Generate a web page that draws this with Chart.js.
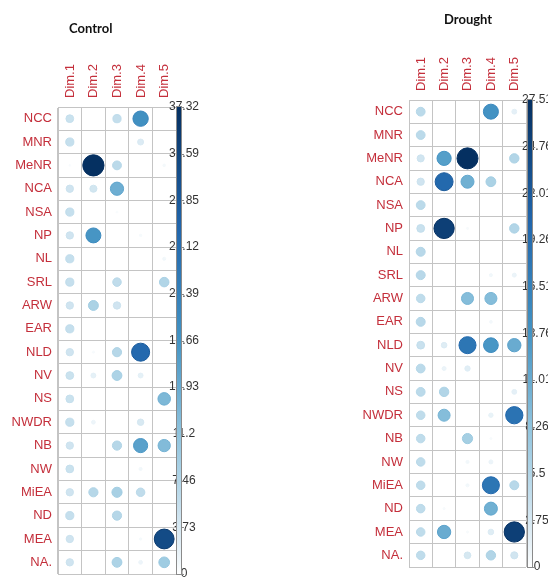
<!DOCTYPE html>
<html>
<head>
<meta charset="utf-8">
<script src="https://cdn.jsdelivr.net/npm/chart.js@4.4.1/dist/chart.umd.min.js"></script>
<style>
  html, body { margin: 0; padding: 0; background: #fff; }
  #wrap { position: relative; width: 548px; height: 579px; overflow: hidden; }
  .panel { position: absolute; top: 0; width: 274px; height: 579px; }
  .title { position: absolute; font: bold 13px Lato, "Liberation Sans", Arial, sans-serif; color: #111; white-space: nowrap; }
</style>
</head>
<body>
<div id="wrap">
  <div class="panel" style="left:0"><canvas id="ctrl" width="274" height="579"></canvas></div>
  <div class="panel" style="left:274px"><canvas id="drought" width="274" height="579"></canvas></div>
  <div class="title" style="left:69px;top:20px">Control</div>
  <div class="title" style="left:444px;top:11px">Drought</div>
</div>
<script>
// Variables (rows) and principal dimensions (columns)
const variables = ['NCC', 'MNR', 'MeNR', 'NCA', 'NSA', 'NP', 'NL', 'SRL', 'ARW', 'EAR',
                   'NLD', 'NV', 'NS', 'NWDR', 'NB', 'NW', 'MiEA', 'ND', 'MEA', 'NA.'];
const dims = ['Dim.1', 'Dim.2', 'Dim.3', 'Dim.4', 'Dim.5'];

// Contributions (%) of each variable to each dimension — Control
const ctrlDim1 = [5.0, 5.5, 0.3, 4.5, 5.5, 4.5, 5.5, 5.5, 4.5, 5.5, 4.5, 5.0, 5.0, 5.5, 4.5, 5.0, 4.5, 5.5, 4.5, 4.5];
const ctrlDim2 = [0, 0, 37.32, 4.2, 0, 18.5, 0, 0, 8.2, 0, 0.4, 2.0, 0, 1.2, 0, 0, 7.0, 0, 0, 0];
const ctrlDim3 = [5.6, 0, 6.5, 14.5, 0.3, 0, 0, 6.0, 4.5, 0, 7.0, 8.0, 0, 0, 7.0, 0, 8.5, 7.0, 0, 8.0];
const ctrlDim4 = [19.5, 3.0, 0, 0, 0, 0.5, 0, 0, 0, 0, 27.0, 2.0, 0, 3.5, 16.5, 0.8, 6.0, 0, 0.5, 1.2];
const ctrlDim5 = [0, 0, 0.6, 0, 0, 0, 0.8, 7.5, 0, 0, 0, 0, 13.0, 0, 12.5, 0, 0, 0, 32.5, 9.5];

// Contributions (%) of each variable to each dimension — Drought
const drDim1 = [4.8, 4.8, 3.2, 3.3, 4.8, 3.8, 5.0, 5.0, 4.5, 5.0, 3.8, 4.8, 4.8, 4.5, 4.5, 4.5, 4.5, 4.5, 4.5, 4.5];
const drDim2 = [0, 0, 12.5, 20.0, 0, 25.5, 0, 0, 0, 0, 2.0, 1.0, 5.5, 9.0, 0, 0, 0, 0.3, 11.0, 0];
const drDim3 = [0, 0, 27.51, 10.5, 0, 0.3, 0, 0, 9.0, 0, 18.0, 1.8, 0, 0, 6.5, 0.6, 0.6, 0, 0.3, 2.8];
const drDim4 = [14.0, 0, 0, 6.0, 0, 0, 0, 0.6, 9.0, 0.5, 13.5, 0, 0, 1.2, 0.3, 1.0, 18.0, 10.5, 2.0, 5.5];
const drDim5 = [1.5, 0, 5.5, 0, 0, 5.5, 0, 1.0, 0, 0, 11.0, 0, 1.5, 18.5, 0, 0, 5.0, 0, 25.5, 3.2];

// Colour-bar tick labels
const ctrlScaleTicks = ['0', '3.73', '7.46', '11.2', '14.93', '18.66', '22.39', '26.12', '29.85', '33.59', '37.32'];
const drScaleTicks = ['0', '2.75', '5.5', '8.26', '11.01', '13.76', '16.51', '19.26', '22.01', '24.76', '27.51'];

// Blue half of the RdBu diverging palette
const paletteStops = ['#FFFFFF', '#D1E5F0', '#92C5DE', '#4393C3', '#2166AC', '#053061'];
const paletteGamma = 0.75;

function hexToRgb(h) {
  const n = parseInt(h.slice(1), 16);
  return [(n >> 16) & 255, (n >> 8) & 255, n & 255];
}
// Colour for a value fraction t in [0, 1]
function colorAt(t) {
  t = Math.pow(Math.max(0, Math.min(1, t)), paletteGamma);
  const seg = (paletteStops.length - 1) * t;
  const i = Math.min(Math.floor(seg), paletteStops.length - 2);
  const f = seg - i;
  const a = hexToRgb(paletteStops[i]), b = hexToRgb(paletteStops[i + 1]);
  const c = a.map((v, k) => Math.round(v + (b[k] - v) * f));
  return `rgb(${c[0]},${c[1]},${c[2]})`;
}

const labelRed = '#c42f3b';
const gridGrey = '#c4c4c4';
const fontFamily = '"Liberation Sans", Arial, sans-serif';

// Axis boxes keep exactly the size given; no extra label padding
function fixBox(s, size) {
  if (s.isHorizontal()) s.height = size; else s.width = size;
  s.paddingTop = s.paddingBottom = s.paddingLeft = s.paddingRight = 0;
}

// Colour bar drawn along the 'cb' scale
const colorBarPlugin = {
  id: 'colorBar',
  afterDraw(chart, args, opts) {
    const s = chart.scales.cb;
    const ctx = chart.ctx;
    const x0 = chart.chartArea.right + opts.gap;
    const w = opts.width;
    const top = s.getPixelForValue(s.max), bottom = s.getPixelForValue(0);
    const g = ctx.createLinearGradient(0, bottom, 0, top);
    for (let k = 0; k <= 40; k++) g.addColorStop(k / 40, colorAt(k / 40));
    ctx.save();
    ctx.fillStyle = g;
    ctx.fillRect(x0, top, w, bottom - top);
    ctx.strokeStyle = '#8a8a8a';
    ctx.lineWidth = 1;
    ctx.strokeRect(x0 - 0.5, top - 0.5, w + 1, bottom - top + 1);
    ctx.beginPath();
    s.ticks.forEach(t => {
      const y = Math.round(s.getPixelForValue(t.value)) + 0.5;
      ctx.moveTo(x0 + w + 0.5, y);
      ctx.lineTo(x0 + w + 3, y);
    });
    ctx.stroke();
    ctx.restore();
  }
};

function buildPoints(cols) {
  const pts = [];
  cols.forEach((col, j) => {
    col.forEach((v, i) => {
      if (v > 0) pts.push({ x: dims[j], y: variables[i], v });
    });
  });
  return pts;
}

function makePanel(id, cols, scaleTicks, geom) {
  const tickValues = scaleTicks.map(Number);
  const max = tickValues[tickValues.length - 1];
  const canvas = document.getElementById(id);
  return new Chart(canvas, {
    type: 'scatter',
    data: {
      datasets: [{
        data: buildPoints(cols),
        pointRadius: ctx => {
          const cell = ctx.chart.scales.x.width / dims.length;
          return 0.45 * cell * Math.sqrt(ctx.raw.v / max);
        },
        pointBackgroundColor: ctx => colorAt(ctx.raw.v / max),
        pointBorderColor: ctx => colorAt(Math.min(1, ctx.raw.v / max * 1.1)),
        pointBorderWidth: 1
      }]
    },
    options: {
      responsive: false,
      animation: false,
      events: [],
      layout: { autoPadding: false, padding: { left: 0, right: 0, top: 0, bottom: canvas.height - geom.bottom } },
      plugins: {
        legend: { display: false },
        tooltip: { enabled: false },
        colorBar: { gap: geom.barGap, width: geom.barWidth }
      },
      scales: {
        x: {
          type: 'category',
          labels: dims,
          position: 'top',
          offset: true,
          grid: { offset: true, color: gridGrey, drawTicks: false },
          border: { color: gridGrey },
          ticks: {
            color: labelRed, font: { family: fontFamily, size: 13 },
            minRotation: 90, maxRotation: 90, padding: 9, autoSkip: false,
            labelOffset: geom.dimOffset
          },
          afterFit: s => fixBox(s, geom.top)
        },
        y: {
          type: 'category',
          labels: variables,
          position: 'left',
          offset: true,
          grid: { offset: true, color: gridGrey, drawTicks: false },
          border: { color: gridGrey },
          ticks: { color: labelRed, font: { family: fontFamily, size: 13 }, padding: 6, autoSkip: false },
          afterFit: s => fixBox(s, geom.left)
        },
        cb: {
          type: 'linear',
          position: 'right',
          min: 0,
          max: max,
          grid: { display: false, drawTicks: false },
          border: { display: false },
          afterBuildTicks: s => { s.ticks = tickValues.map(v => ({ value: v })); },
          ticks: {
            color: '#333', font: { family: fontFamily, size: 12 },
            mirror: true, padding: geom.cbPad, crossAlign: 'center',
            callback: (v, i) => scaleTicks[i]
          },
          afterFit: s => fixBox(s, canvas.width - geom.right)
        }
      }
    },
    plugins: [colorBarPlugin]
  });
}

makePanel('ctrl', [ctrlDim1, ctrlDim2, ctrlDim3, ctrlDim4, ctrlDim5], ctrlScaleTicks,
  { left: 58, right: 176, top: 107, bottom: 574, barGap: 1, barWidth: 4, cbPad: 23, dimOffset: 16 });
makePanel('drought', [drDim1, drDim2, drDim3, drDim4, drDim5], drScaleTicks,
  { left: 135, right: 252, top: 100, bottom: 567, barGap: 2, barWidth: 4, cbPad: 26, dimOffset: 16 });
</script>
</body>
</html>
